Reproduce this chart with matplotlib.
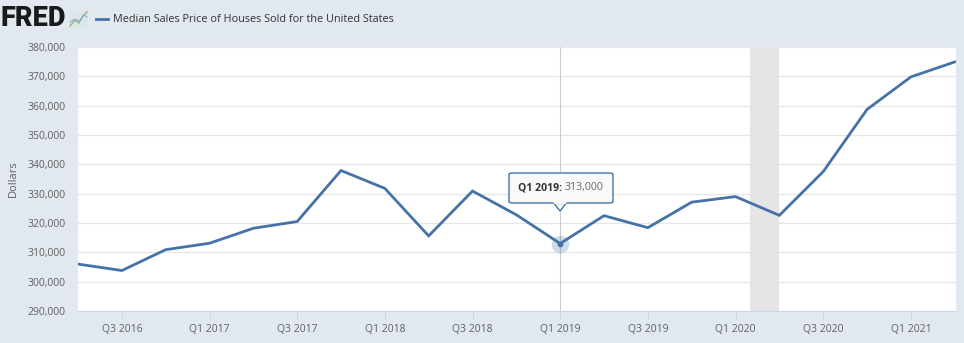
import matplotlib.pyplot as plt
from matplotlib.patches import FancyBboxPatch, Rectangle, Polygon

# Median sales price, quarterly, Q2 2016 .. Q2 2021
quarters = ['Q2 2016', 'Q3 2016', 'Q4 2016', 'Q1 2017', 'Q2 2017', 'Q3 2017', 'Q4 2017',
            'Q1 2018', 'Q2 2018', 'Q3 2018', 'Q4 2018', 'Q1 2019', 'Q2 2019', 'Q3 2019',
            'Q4 2019', 'Q1 2020', 'Q2 2020', 'Q3 2020', 'Q4 2020', 'Q1 2021', 'Q2 2021']
prices = [306000, 303800, 310900, 313100, 318200, 320500, 337900,
          331800, 315600, 330900, 322800, 313000, 322500, 318400,
          327100, 329000, 322600, 337500, 358700, 369800, 374900]
tick_labels = ['Q3 2016', 'Q1 2017', 'Q3 2017', 'Q1 2018', 'Q3 2018',
               'Q1 2019', 'Q3 2019', 'Q1 2020', 'Q3 2020', 'Q1 2021']
y_ticks = list(range(290000, 380001, 10000))
recession = (15 + 1/3, 16)   # Feb 2020 - Apr 2020
hover = 'Q1 2019'

bg = '#e1e8f0'
blue = '#4572a7'
plt.rcParams['font.family'] = ['Open Sans', 'DejaVu Sans']

fig = plt.figure(figsize=(9.64, 3.43), dpi=100, facecolor=bg)
ax = fig.add_axes([78/964, 1 - 311/343, (956 - 78)/964, (311 - 47)/343])
ax.set_facecolor('white')

x = list(range(len(quarters)))
ax.axvspan(recession[0], recession[1], color='#e5e5e5', lw=0, zorder=1)
for yv in y_ticks[1:]:
    ax.axhline(yv, color='#e6e6e6', lw=0.9, zorder=0)

hx = quarters.index(hover)
ax.axvline(hx, color='#cccccc', lw=0.8, zorder=2)
ax.plot(x, prices, color=blue, lw=2.0, zorder=3, solid_joinstyle='miter')
ax.scatter([hx], [prices[hx]], s=160, color=blue, alpha=0.25, lw=0, zorder=4)
ax.scatter([hx], [prices[hx]], s=10, color=blue, zorder=5)

ax.set_xlim(0, len(quarters) - 1 + 0.03)
ax.set_ylim(290000, 380000)
ax.set_xticks([quarters.index(t) for t in tick_labels])
ax.set_xticklabels(tick_labels)
ax.set_yticks(y_ticks)
ax.set_yticklabels(['{:,}'.format(v) for v in y_ticks])
ax.tick_params(axis='x', colors='#ccd6eb', labelcolor='#606060', labelsize=7.5, length=6, width=0.8, pad=3)
ax.tick_params(axis='y', length=0, labelcolor='#606060', labelsize=7.5, pad=9)
for s in ['top', 'right', 'left']:
    ax.spines[s].set_visible(False)
ax.spines['bottom'].set_color('#ccd6eb')
ax.set_ylabel('Dollars', color='#606060', fontsize=8, labelpad=6)

# tooltip
tb = FancyBboxPatch((509/964, 1 - 203/343), 104/964, 30/343, boxstyle='round,pad=0,rounding_size=0.004',
                    transform=fig.transFigure, fc='#f9f9f9', ec=blue, lw=1.0, zorder=10)
fig.patches.append(tb)
ptr = Polygon([(554/964, 1 - 203.5/343), (566/964, 1 - 203.5/343), (560/964, 1 - 211/343)],
              closed=True, transform=fig.transFigure, fc='#f9f9f9', ec=blue, lw=1.0, zorder=10)
fig.patches.append(ptr)
fig.lines.append(plt.Line2D([554.8/964, 565.2/964], [1 - 203/343, 1 - 203/343],
                            transform=fig.transFigure, color='#f9f9f9', lw=1.6, zorder=11))
t1 = fig.text(518/964, 1 - 188/343, hover + ': ', fontsize=7.6, fontweight='bold', color='#333333',
              va='center', zorder=12)
fig.canvas.draw()
bb = t1.get_window_extent()
fig.text(bb.x1 / fig.bbox.width, 1 - 188/343, '{:,}'.format(prices[hx]), fontsize=7.6,
         color='#666666', va='center', zorder=12)

# header
fig.text(0.0, 1 - 19/343, 'FRED', fontsize=19.5, fontweight='black', color='#1a1a1a',
         va='center', ha='left', family=['Roboto', 'DejaVu Sans'])
icon = Rectangle((69/964, 1 - 29/343), 19/964, 19/343, transform=fig.transFigure,
                 fc='#dfe6ea', ec='none')
fig.patches.append(icon)
fig.lines.append(plt.Line2D([70/964, 75/964, 79/964, 83/964, 87/964],
                            [1 - 26/343, 1 - 20/343, 1 - 23/343, 1 - 16/343, 1 - 12/343],
                            transform=fig.transFigure, color='#7fbf7f', lw=1))
fig.lines.append(plt.Line2D([70/964, 75/964, 79/964, 84/964, 87/964],
                            [1 - 22/343, 1 - 19/343, 1 - 21/343, 1 - 15/343, 1 - 17/343],
                            transform=fig.transFigure, color='#8fb0cf', lw=0.8))
fig.lines.append(plt.Line2D([96/964, 108/964], [1 - 19/343, 1 - 19/343],
                            transform=fig.transFigure, color=blue, lw=2))
fig.text(113/964, 1 - 19/343, 'Median Sales Price of Houses Sold for the United States',
         fontsize=7.8, color='#333333', va='center')

fig.savefig('out.png', dpi=100, facecolor=bg)
